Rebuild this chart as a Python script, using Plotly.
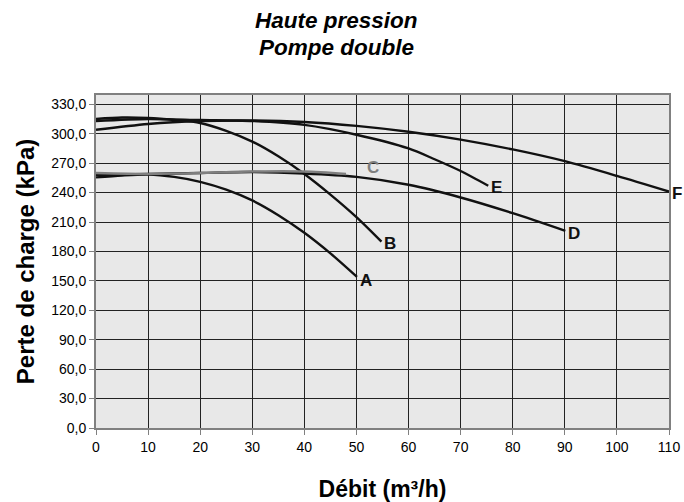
import plotly.graph_objects as go

# ---- data ----
xA = [0, 5, 10, 15, 20, 25, 30, 35, 40, 45, 50.1]
yA = [255.5, 257.5, 258.5, 256, 251, 243, 232, 217, 199, 178, 154]

xB = [0, 5, 10, 15, 20, 25, 30, 35, 40, 45, 50, 54.8]
yB = [315, 316.5, 316, 314, 311, 303, 292, 277, 259, 238, 215, 190]

xC = [0, 10, 20, 30, 40, 48]
yC = [260, 259, 260, 261.5, 261.5, 259]

xD = [0, 10, 20, 30, 40, 50, 60, 70, 80, 90.1]
yD = [258, 259, 260, 261, 259.5, 256, 248, 235, 219, 201]

xE = [0, 10, 20, 30, 40, 50, 60, 65, 70, 75.3]
yE = [313, 315, 314, 313, 309, 299, 285, 274, 262, 247]

xF = [0, 10, 20, 30, 40, 50, 60, 70, 80, 90, 100, 110]
yF = [304, 310, 313, 313.5, 312, 308, 302, 294, 284, 272, 257, 241]

labels = ["A", "B", "C", "D", "E", "F"]
# label anchor points (data units)
label_x = [50.1, 54.8, 51.5, 90.1, 75.3, 110]
label_y = [150, 188, 266, 198, 245, 239]

title_lines = ["Haute pression", "Pompe double"]

yticks = [0, 30, 60, 90, 120, 150, 180, 210, 240, 270, 300, 330]
xticks = [0, 10, 20, 30, 40, 50, 60, 70, 80, 90, 100, 110]

FONT = "Liberation Sans, Arial, sans-serif"
BLACK = "#111111"
GRAY = "#7f7f7f"

fig = go.Figure()
series = [(xA, yA, BLACK), (xB, yB, BLACK), (xD, yD, BLACK),
          (xC, yC, GRAY), (xE, yE, BLACK), (xF, yF, BLACK)]
for xs, ys, col in series:
    fig.add_trace(go.Scatter(x=xs, y=ys, mode="lines",
                             line=dict(color=col, width=2.4, shape="spline", smoothing=0.8),
                             showlegend=False, hoverinfo="skip", cliponaxis=False))

for t, lx, ly in zip(labels, label_x, label_y):
    fig.add_annotation(x=lx, y=ly, text=f"<b>{t}</b>", showarrow=False,
                       font=dict(family=FONT, size=17, color=GRAY if t == "C" else BLACK),
                       xanchor="left", yanchor="middle", xshift=1)

# two-line title as annotations (tighter line spacing, as in the reference)
for line, py in zip(title_lines, [1.225, 1.144]):
    fig.add_annotation(x=0.42, y=py, xref="paper", yref="paper",
                       text=f"<b><i>{line}</i></b>", showarrow=False,
                       xanchor="center", yanchor="middle",
                       font=dict(family=FONT, size=22.5, color="black"))

fig.update_layout(
    width=684, height=502,
    margin=dict(l=96, r=15, t=95, b=74, autoexpand=False),
    paper_bgcolor="white", plot_bgcolor="#e8e8e8",
    separators=", ",
    font=dict(family=FONT, color="black"),
)
fig.update_xaxes(range=[0, 110], tickvals=xticks, showgrid=True,
                 gridcolor="#222222", gridwidth=1, automargin=False,
                 showline=True, linecolor="#808080", linewidth=2, mirror=True,
                 ticks="outside", ticklen=5, tickcolor="#808080", tickwidth=1,
                 tickfont=dict(family=FONT, size=14, color="black"),
                 zeroline=False,
                 title=dict(text="<b>Débit (m³/h)</b>", standoff=38,
                            font=dict(family=FONT, size=23, color="black")))
fig.update_yaxes(range=[0, 339.5], tickvals=yticks, tickformat=".1f", showgrid=True,
                 gridcolor="#222222", gridwidth=1, automargin=False,
                 showline=True, linecolor="#808080", linewidth=2, mirror=True,
                 ticks="outside", ticklen=5, tickcolor="#808080", tickwidth=1,
                 tickfont=dict(family=FONT, size=14, color="black"),
                 zeroline=False,
                 title=dict(text="<b>Perte de charge (kPa)</b>", standoff=10,
                            font=dict(family=FONT, size=24, color="black")))

fig.write_html("out.html")
